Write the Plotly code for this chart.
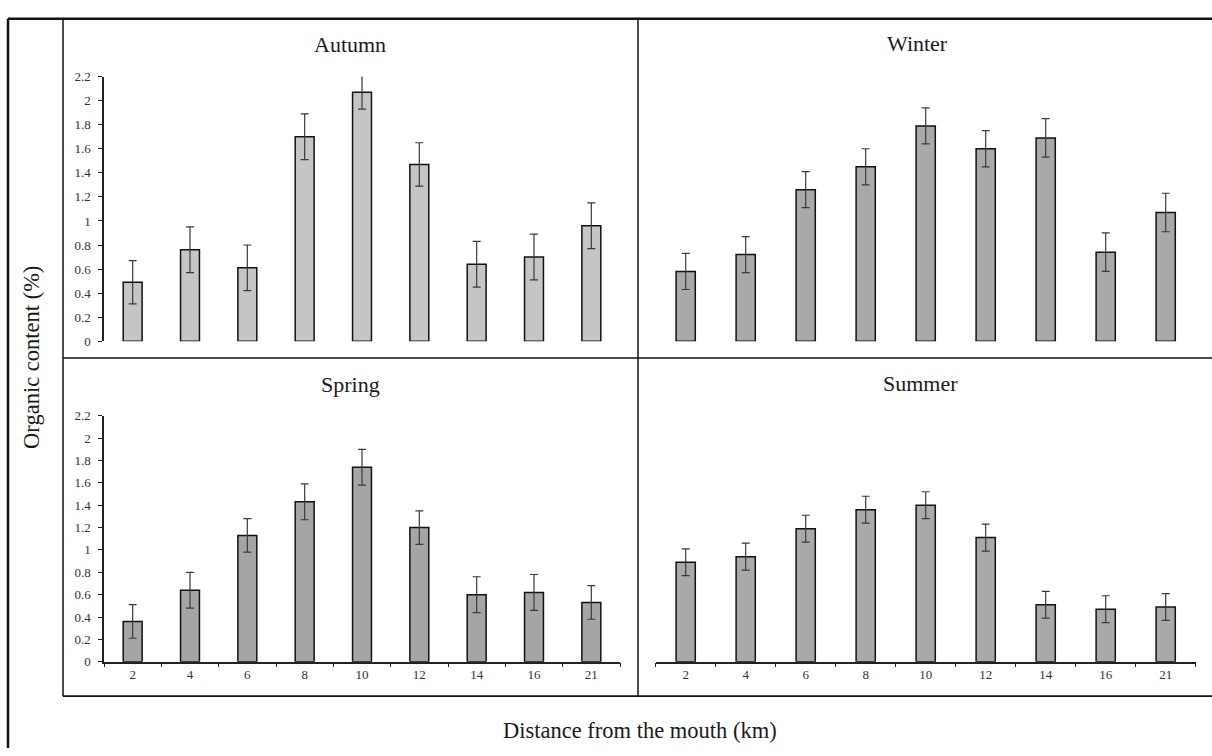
import plotly.graph_objects as go

# Sampling stations (distance from the river mouth, km)
stations = ["2", "4", "6", "8", "10", "12", "14", "16", "21"]

# Mean organic content (%) and standard deviation per season
autumn_mean = [0.49, 0.76, 0.61, 1.70, 2.07, 1.47, 0.64, 0.70, 0.96]
autumn_sd = [0.18, 0.19, 0.19, 0.19, 0.14, 0.18, 0.19, 0.19, 0.19]

winter_mean = [0.58, 0.72, 1.26, 1.45, 1.79, 1.60, 1.69, 0.74, 1.07]
winter_sd = [0.15, 0.15, 0.15, 0.15, 0.15, 0.15, 0.16, 0.16, 0.16]

spring_mean = [0.36, 0.64, 1.13, 1.43, 1.74, 1.20, 0.60, 0.62, 0.53]
spring_sd = [0.15, 0.16, 0.15, 0.16, 0.16, 0.15, 0.16, 0.16, 0.15]

summer_mean = [0.89, 0.94, 1.19, 1.36, 1.40, 1.11, 0.51, 0.47, 0.49]
summer_sd = [0.12, 0.12, 0.12, 0.12, 0.12, 0.12, 0.12, 0.12, 0.12]

y_ticks = [0, 0.2, 0.4, 0.6, 0.8, 1, 1.2, 1.4, 1.6, 1.8, 2, 2.2]
y_tick_text = ["0", "0.2", "0.4", "0.6", "0.8", "1", "1.2", "1.4", "1.6", "1.8", "2", "2.2"]

W, H = 1212, 756
FONT = "Liberation Serif"


def px(x):
    return x / W


def py(y):
    return 1 - y / H


fig = go.Figure()

panels = [
    ("Autumn", autumn_mean, autumn_sd, "x", "y", "#c5c5c5", 0.33),
    ("Winter", winter_mean, winter_sd, "x2", "y2", "#a9a9a9", 0.32),
    ("Spring", spring_mean, spring_sd, "x3", "y3", "#a5a5a5", 0.33),
    ("Summer", summer_mean, summer_sd, "x4", "y4", "#a9a9a9", 0.32),
]

for name, mean, sd, xa, ya, color, bw in panels:
    fig.add_trace(go.Bar(
        x=stations, y=mean, name=name, xaxis=xa, yaxis=ya,
        width=bw,
        marker=dict(color=color, line=dict(color="#111111", width=1.5)),
        error_y=dict(type="data", array=sd, visible=True,
                     color="#3a3a3a", thickness=1.2, width=4),
        showlegend=False,
    ))

# Panel geometry in pixels
left_x = (104.0, 620.0)
right_x = (655.7, 1195.7)
top_y = (341.0, 71.0)      # pixel rows of y=0 and y=2.2
bottom_y = (668.0, 417.0)

common_x = dict(type="category", range=[-0.5, 8.5], fixedrange=True)
tick_font = dict(family=FONT, size=13, color="#333333")

def xaxis_shown(dom):
    return dict(common_x, domain=[px(dom[0]), px(dom[1])], showline=True,
                linecolor="#222222", linewidth=1.5, ticks="outside",
                tickson="boundaries", ticklen=4, tickwidth=1.3,
                tickcolor="#222222", tickfont=tick_font, showgrid=False,
                zeroline=False)

def xaxis_hidden(dom):
    return dict(common_x, domain=[px(dom[0]), px(dom[1])], showline=False,
                ticks="", showticklabels=False, showgrid=False,
                zeroline=False)

def yaxis_shown(dom, anchor):
    return dict(domain=[py(dom[0]), py(dom[1])], range=[0, 2.2],
                anchor=anchor, showline=True, linecolor="#222222",
                linewidth=1.5, ticks="outside", ticklen=4, tickwidth=1.3,
                tickcolor="#222222", tickvals=y_ticks, ticktext=y_tick_text,
                tickfont=tick_font, showgrid=False, zeroline=False,
                ticklabelstandoff=5)

def yaxis_hidden(dom, anchor):
    return dict(domain=[py(dom[0]), py(dom[1])], range=[0, 2.2],
                anchor=anchor, visible=False, showgrid=False,
                zeroline=False)

fig.update_layout(
    width=W, height=H,
    margin=dict(l=0, r=0, t=0, b=0),
    paper_bgcolor="white", plot_bgcolor="rgba(0,0,0,0)",
    bargap=0.6,
    xaxis=dict(xaxis_hidden(left_x), anchor="y"),
    yaxis=yaxis_shown(top_y, "x"),
    xaxis2=dict(xaxis_hidden(right_x), anchor="y2"),
    yaxis2=yaxis_hidden(top_y, "x2"),
    xaxis3=dict(xaxis_shown(left_x), anchor="y3"),
    yaxis3=yaxis_shown(bottom_y, "x3"),
    xaxis4=dict(xaxis_shown(right_x), anchor="y4"),
    yaxis4=yaxis_hidden(bottom_y, "x4"),
)

# Frame lines around the panel grid
frame = [
    (8, 12, 8, 756, 2.5),
    (8, 12, 1212, 12, 2.5),
    (63, 12, 63, 703, 1.5),
    (638, 12, 638, 703, 1.5),
    (63, 358, 1212, 358, 1.5),
    (63, 703, 1212, 703, 1.8),
]
for x0, y0, x1, y1, w in frame:
    fig.add_shape(type="line", xref="paper", yref="paper",
                  x0=px(x0), y0=py(y0), x1=px(x1), y1=py(y1),
                  line=dict(color="#111111", width=w))

# Season titles
titles = [("Autumn", 350, 38), ("Winter", 917, 37),
          ("Spring", 350, 385), ("Summer", 920, 384)]
for text, x, y in titles:
    fig.add_annotation(text=text, xref="paper", yref="paper",
                       x=px(x), y=py(y), showarrow=False,
                       xanchor="center", yanchor="middle",
                       font=dict(family=FONT, size=22, color="#1a1a1a"))

# Shared axis titles
fig.add_annotation(text="Organic content (%)", xref="paper", yref="paper",
                   x=px(32), y=py(358), showarrow=False, textangle=-90,
                   xanchor="center", yanchor="middle",
                   font=dict(family=FONT, size=22.5, color="#1a1a1a"))
fig.add_annotation(text="Distance from the mouth (km)", xref="paper",
                   yref="paper", x=px(640), y=py(738), showarrow=False,
                   xanchor="center", yanchor="middle",
                   font=dict(family=FONT, size=22.5, color="#1a1a1a"))

fig.write_html("out.html")
